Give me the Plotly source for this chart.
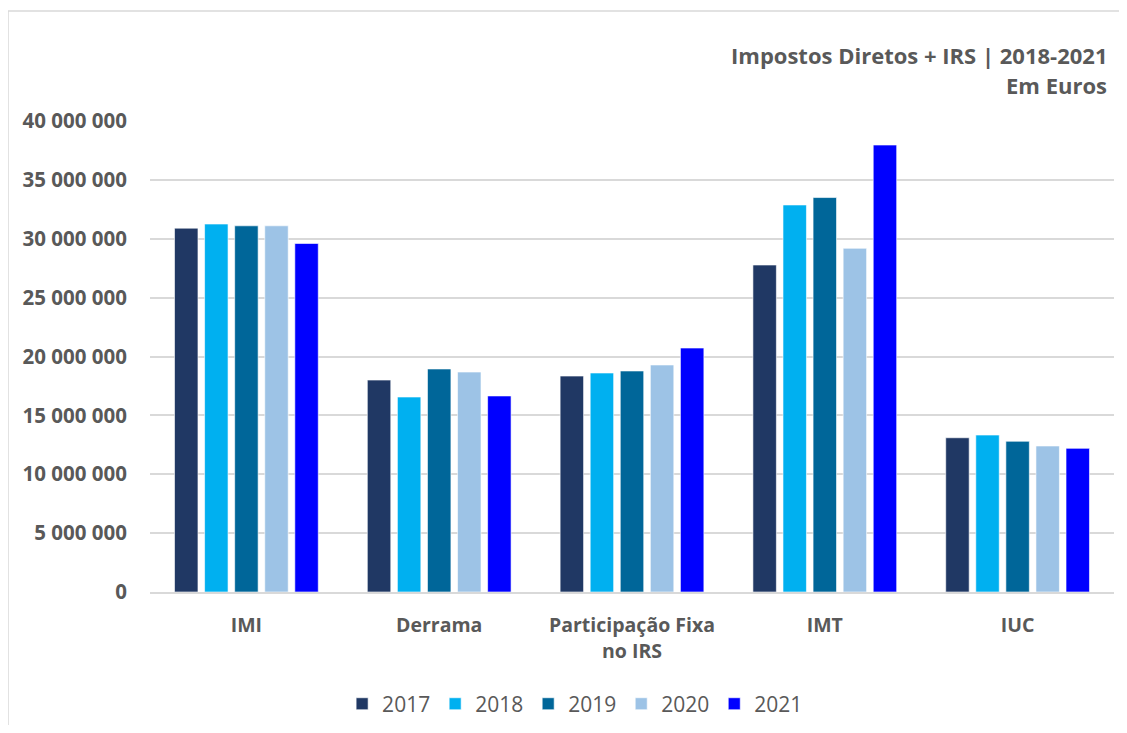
import plotly.graph_objects as go

categories = ["IMI", "Derrama", "Participação Fixa<br>no IRS", "IMT", "IUC"]
years = ["2017", "2018", "2019", "2020", "2021"]
values = {
    "2017": [30900000, 18000000, 18340000, 27770000, 13100000],
    "2018": [31250000, 16560000, 18600000, 32870000, 13330000],
    "2019": [31100000, 18940000, 18770000, 33500000, 12800000],
    "2020": [31100000, 18680000, 19280000, 29190000, 12400000],
    "2021": [29600000, 16650000, 20720000, 37960000, 12200000],
}
colors = {
    "2017": "#203864",
    "2018": "#00B0F0",
    "2019": "#006699",
    "2020": "#9DC3E6",
    "2021": "#0000FF",
}
y_ticks = [0, 5000000, 10000000, 15000000, 20000000, 25000000, 30000000, 35000000, 40000000]

FONT = "Open Sans"
GRAY = "#595959"

fig = go.Figure()
for yr in years:
    fig.add_trace(go.Bar(
        name=yr, x=categories, y=values[yr],
        marker=dict(color=colors[yr], line=dict(color="rgba(255,255,255,0.6)", width=1)),
    ))

fig.update_layout(
    width=1111, height=717,
    paper_bgcolor="white", plot_bgcolor="white",
    margin=dict(l=142, r=5, t=113, b=133, autoexpand=False),
    barmode="group", bargap=0.22, bargroupgap=0.22,
    separators=", ",
    font=dict(family=FONT, color=GRAY),
    showlegend=True,
    legend=dict(orientation="h", x=0.441, xanchor="center", y=-0.238, yanchor="middle",
                font=dict(size=21, color=GRAY, family=FONT), itemwidth=30,
                traceorder="normal"),
    xaxis=dict(showgrid=False, showline=True, linecolor="#d9d9d9", linewidth=1.5,
               tickfont=dict(size=19.5, color=GRAY, family=FONT, weight="bold"), ticks="",
               ticklabelstandoff=15),
    yaxis=dict(range=[0, 40000000], tickvals=y_ticks, tickformat=",d",
               showgrid=True, gridcolor="#d9d9d9", gridwidth=1.5, zeroline=False,
               tickfont=dict(size=20.5, color=GRAY, family=FONT, weight="bold"), ticks="",
               ticklabelstandoff=22),
    annotations=[
        dict(text="<b>Impostos Diretos + IRS | 2018-2021</b>", xref="paper", yref="paper",
             x=1.0, xanchor="right", y=1.0, yshift=66, yanchor="middle", showarrow=False,
             font=dict(size=22, color=GRAY, family=FONT), xshift=-5),
        dict(text="<b>Em Euros</b>", xref="paper", yref="paper",
             x=1.0, xanchor="right", y=1.0, yshift=36, yanchor="middle", showarrow=False,
             font=dict(size=22, color=GRAY, family=FONT), xshift=-5),
    ],
    shapes=[
        dict(type="rect", xref="paper", yref="paper", x0=-142/964, x1=1.2, y0=-0.5,
             y1=1 + 110/471, line=dict(color="#d9d9d9", width=1.5), fillcolor="rgba(0,0,0,0)",
             layer="below"),
    ],
)

fig.write_html("out.html")
